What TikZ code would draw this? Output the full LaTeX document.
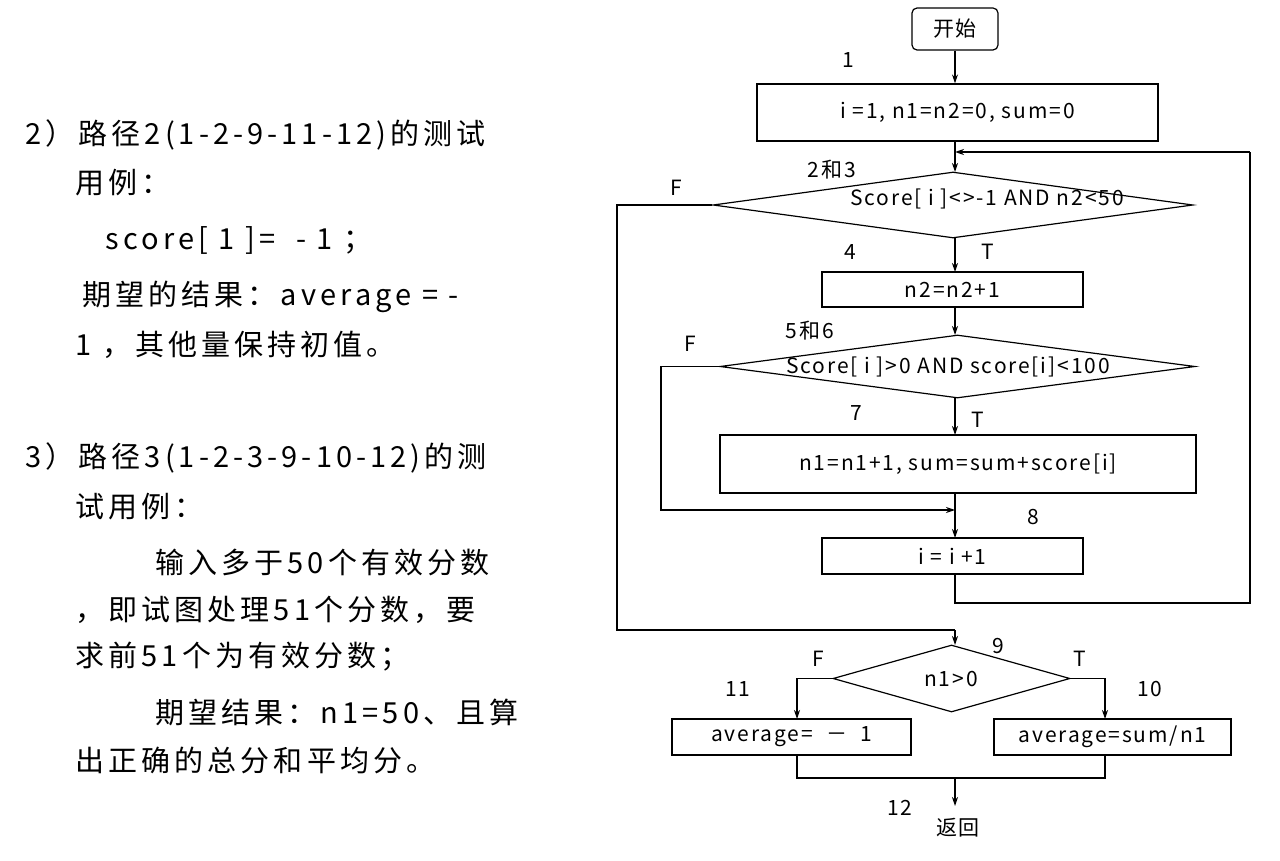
\documentclass[tikz,border=0pt]{standalone}
\usepackage{fontspec}
\setmainfont{Noto Sans CJK SC}
\newfontfamily\leftfont[LetterSpace=14]{Noto Sans CJK SC}
\newfontfamily\flfont[LetterSpace=9]{Noto Sans CJK SC}
\usetikzlibrary{shapes.geometric,arrows.meta}
\begin{document}
\begin{tikzpicture}[x=1pt,y=-1pt,line width=1.2pt,>={Stealth[length=9pt,width=6pt]},
  lt/.style={anchor=west,font=\leftfont\fontsize{29}{32}\selectfont,inner sep=0},
  fl/.style={font=\flfont\fontsize{21}{24}\selectfont,inner sep=0},
  boxx/.style={draw,fl,inner sep=0}]
\useasboundingbox (0,0) rectangle (1280,861);
% left text
\node[lt] (l1) at (25,135) {2）路径2(1-2-9-11-12)的测试};
\node[lt] (l2) at (75,183) {用例：};
\node[lt] (l3) at (105,240) {score[ 1 ]=\ \ - 1 ；};
\node[lt] (l4) at (82,297) {期望的结果：average = -};
\node[lt] (l5) at (75,345) {1 ，其他量保持初值。};
\node[lt] (l6) at (25,458) {3）路径3(1-2-3-9-10-12)的测};
\node[lt] (l7) at (75,507) {试用例：};
\node[lt] (l8) at (155,562) {输入多于50个有效分数};
\node[lt] (l9) at (75,610) {，即试图处理51个分数，要};
\node[lt] (l10) at (75,657) {求前51个为有效分数；};
\node[lt] (l11) at (155,712) {期望结果：n1=50、且算};
\node[lt] (l12) at (75,760) {出正确的总分和平均分。};
% flowchart
\node[draw,rounded corners=5pt,fl,minimum width=86,minimum height=42] (st) at (955,29) {开始};
\node[boxx,minimum width=401,minimum height=57] (b1) at (957.5,112.5) {i =1, n1=n2=0, sum=0};
\node[draw,diamond,aspect=7.3,inner sep=0,minimum width=480,minimum height=66,fl] (d1) at (953,205) {};
\node[fl] at (987,199) {Score[ i ]<>-1 AND n2<50};
\node[boxx,minimum width=261,minimum height=35] (b4) at (952.5,289.5) {n2=n2+1};
\node[draw,diamond,aspect=7.5,inner sep=0,minimum width=475,minimum height=63,fl] (d2) at (957.5,366.5) {};
\node[fl] at (948,367) {Score[ i ]>0 AND score[i]<100};
\node[boxx,minimum width=476,minimum height=58] (b7) at (958,464) {n1=n1+1, sum=sum+score[i]};
\node[boxx,minimum width=261,minimum height=36] (b8) at (952.5,556) {i = i +1};
\node[draw,diamond,aspect=3.5,inner sep=0,minimum width=237,minimum height=67,fl] (d3) at (951.5,678.5) {};
\node[fl] at (951,679) {n1>0};
\node[boxx,minimum width=239,minimum height=36] (b11) at (791.5,737) {average= \ － \ 1};
\node[boxx,minimum width=237,minimum height=36] (b10) at (1112.5,737) {average=sum/n1};
\node[fl] (ret) at (958,828) {返回};
% labels
\node[fl] at (848,60) {1};
\node[fl] at (832,170) {2和3};
\node[fl] at (676,188) {F};
\node[fl] at (850,252) {4};
\node[fl] at (988,252) {T};
\node[fl] at (810,331) {5和6};
\node[fl] at (690,344) {F};
\node[fl] at (856,413) {7};
\node[fl] at (978,420) {T};
\node[fl] at (1033,517) {8};
\node[fl] at (998,646) {9};
\node[fl] at (818,659) {F};
\node[fl] at (1080,659) {T};
\node[fl] at (738,689) {11};
\node[fl] at (1150,689) {10};
\node[fl] at (900,808) {12};
% coordinates
\coordinate (j1) at (955,152);
\coordinate (j2) at (955,510);
\coordinate (j3) at (955,630);
\coordinate (j4) at (955,778);
\coordinate (e12) at (955,806);
% connectors
\draw[->] (st.south) -- (st.south |- b1.north);
\draw[->] (955,141) -- (955,172);
\draw[->] (955,238) -- (955,272);
\draw[->] (955,307) -- (955,335);
\draw[->] (955,398) -- (955,435);
\draw[->] (955,493) -- (955,538);
\draw (955,574) -- (955,603) -- (1250,603) -- (1250,152);
\draw[->] (1250,152) -- (j1);
\draw (d1.west) -- (617,205) -- (617,630) -- (j3);
\draw[->] (j3) -- (955,645);
\draw[->] (d2.west) -- (661,366.5) -- (661,510) -- (j2);
\draw[->] (d3.west) -- (797,678.5) -- (797,719);
\draw[->] (d3.east) -- (1105,678.5) -- (1105,719);
\draw (797,755) -- (797,778) -- (1105,778) -- (1105,755);
\draw[->] (j4) -- (e12);
\end{tikzpicture}
\end{document}
